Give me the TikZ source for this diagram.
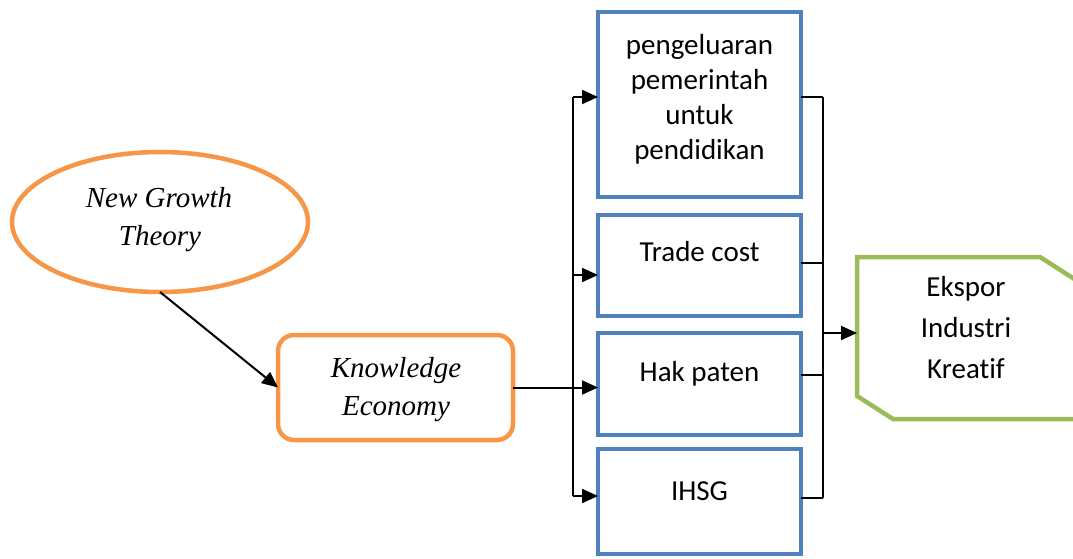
\documentclass[tikz,border=0pt]{standalone}
\usepackage{fontspec}
\setmainfont{Liberation Serif}
\newfontfamily\calib[Ligatures={NoCommon}]{Carlito}
\usetikzlibrary{arrows.meta,shapes.geometric}
\definecolor{orn}{HTML}{F79646}
\definecolor{blu}{HTML}{4F81BD}
\definecolor{grn}{HTML}{9BBB59}
\begin{document}
\begin{tikzpicture}[x=1pt,y=-1pt,
  orbox/.style={draw=orn,line width=4.5pt,fill=white,outer sep=0pt,inner sep=0pt},
  bbox/.style={draw=blu,line width=4.5pt,fill=white,minimum width=203pt,outer sep=0pt,inner sep=0pt,anchor=north west},
  ctext/.style={font=\calib\fontsize{29}{35}\selectfont,anchor=base,inner sep=0pt},
  itext/.style={font=\itshape\fontsize{29}{38}\selectfont,anchor=base,inner sep=0pt},
  conn/.style={line width=2pt},
  arr/.style={conn,-{Triangle[length=16pt,width=14pt]}}]
\useasboundingbox (0,0) rectangle (1073,558);
\clip (0,0) rectangle (1073,558);

% left nodes
\node[orbox,ellipse,minimum width=296pt,minimum height=140pt] (ell) at (160,222) {};
\node[itext] (ng1) at (159,207) {New Growth};
\node[itext] (ng2) at (160,245) {Theory};

\node[orbox,rounded corners=16pt,minimum width=235pt,minimum height=105pt] (kn) at (395.5,387.5) {};
\node[itext] (ke1) at (396,377) {Knowledge};
\node[itext] (ke2) at (396,415) {Economy};

% blue boxes
\node[bbox,minimum height=185pt] (b1) at (598,12) {};
\node[bbox,minimum height=101pt] (b2) at (598,215) {};
\node[bbox,minimum height=102pt] (b3) at (598,333) {};
\node[bbox,minimum height=105pt] (b4) at (598,449) {};

\node[ctext] (p1) at (699.5,54) {pengeluaran};
\node[ctext] (p2) at (699.5,89) {pemerintah};
\node[ctext] (p3) at (699.5,124) {untuk};
\node[ctext] (p4) at (699.5,159) {pendidikan};
\node[ctext] (tc) at (699.5,261) {Trade cost};
\node[ctext] (hp) at (699.5,381) {Hak paten};
\node[ctext] (ih) at (699.5,500) {IHSG};

% green shape
\draw[draw=grn,line width=4.5pt,fill=white,line join=miter]
  (857,257) -- (1040,257) -- (1090,289) -- (1090,419) -- (893,419) -- (857,396) -- cycle;
\coordinate (gl) at (857,333);
\node[ctext] (e1) at (966,296) {Ekspor};
\node[ctext] (e2) at (966,337) {Industri};
\node[ctext] (e3) at (966,378) {Kreatif};

% connectors
\draw[arr] (ell.south) -- (kn.west);

\coordinate (a1) at (573,97);
\coordinate (a2) at (573,275);
\coordinate (a3) at (573,387.5);
\coordinate (a4) at (573,496);
\draw[conn] (kn.east) -- (a3);
\draw[conn] (a1) -- (a4);
\draw[arr] (a1) -- (a1 -| b1.west);
\draw[arr] (a2) -- (a2 -| b2.west);
\draw[arr] (a3) -- (a3 -| b3.west);
\draw[arr] (a4) -- (a4 -| b4.west);

\coordinate (r1) at (823,97);
\coordinate (r2) at (823,263);
\coordinate (r3) at (823,375);
\coordinate (r4) at (823,498);
\coordinate (rm) at (823,333);
\draw[conn] (r1 -| b1.east) -- (r1);
\draw[conn] (r2 -| b2.east) -- (r2);
\draw[conn] (r3 -| b3.east) -- (r3);
\draw[conn] (r4 -| b4.east) -- (r4);
\draw[conn] (r1) -- (r4);
\draw[arr] (rm) -- (gl);
\end{tikzpicture}
\end{document}
